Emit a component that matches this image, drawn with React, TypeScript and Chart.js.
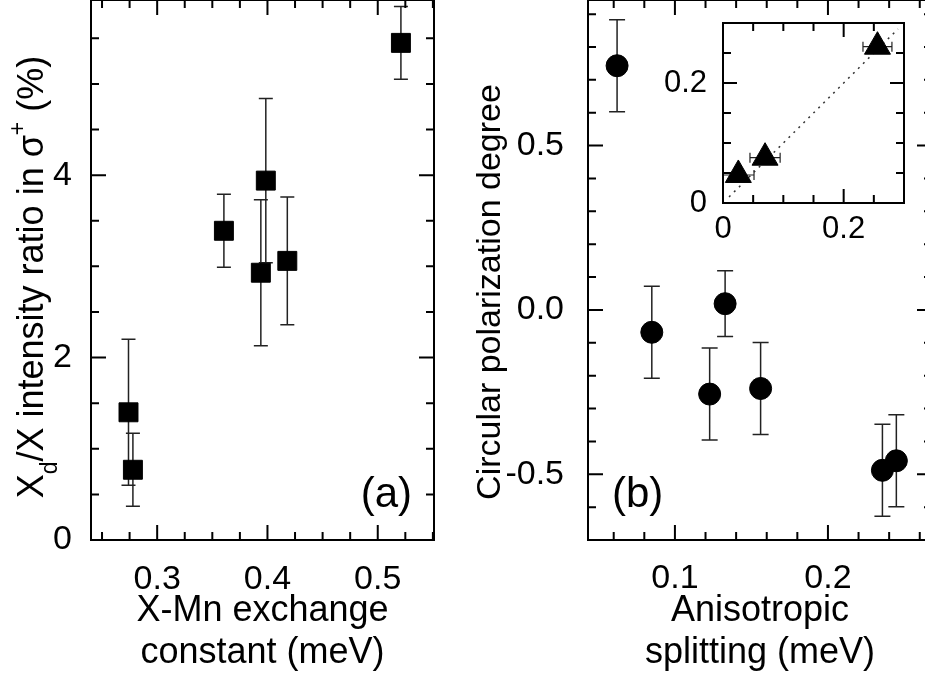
import React, { useEffect, useRef } from 'react';
import { Chart, registerables } from 'chart.js';

Chart.register(...registerables);

const FONT = '"Liberation Sans", Arial, Helvetica, sans-serif';

// ---------- Panel (a) ----------
const exchangeConstant = [0.274, 0.278, 0.3605, 0.3985, 0.394, 0.418, 0.521];
const intensityRatio = [1.4, 0.77, 3.39, 3.94, 2.93, 3.06, 5.45];
const intensityRatioErr = [0.8, 0.4, 0.4, 0.9, 0.8, 0.7, 0.4];
const aXTickValues = [0.3, 0.4, 0.5];
const aXTickLabels = ['0.3', '0.4', '0.5'];
const aYTickValues = [0, 2, 4];
const aYTickLabels = ['0', '2', '4'];

// ---------- Panel (b) ----------
const anisotropicSplitting = [0.0622, 0.0849, 0.1227, 0.1328, 0.156, 0.2356, 0.2447];
const polarizationDegree = [0.743, -0.068, -0.256, 0.019, -0.239, -0.488, -0.459];
const polarizationErr = [0.14, 0.14, 0.14, 0.1, 0.14, 0.14, 0.14];
const bXTickValues = [0.1, 0.2];
const bXTickLabels = ['0.1', '0.2'];
const bYTickValues = [-0.5, 0, 0.5];
const bYTickLabels = ['-0.5', '0.0', '0.5'];

// ---------- Inset ----------
const insetX = [0.0254, 0.0697, 0.256];
const insetY = [0.0467, 0.0755, 0.2605];
const insetXErr = [0.026, 0.025, 0.024];
const guideX = [0.01, 0.29];
const guideY = [0.01, 0.29];
const insetTickValues = [0, 0.2];
const insetTickLabels = ['0', '0.2'];

const isIn = (v: number, list: number[]) => list.some((m) => Math.abs(m - v) < 1e-6);

type AxisOpts = {
  min: number;
  max: number;
  step: number;
  tickValues: number[];
  tickLabels: string[];
  size: number;
  pad: number;
  fontSize: number;
  horizontal: boolean;
  title?: string[];
};

function axis(o: AxisOpts) {
  return {
    type: 'linear',
    position: o.horizontal ? 'bottom' : 'left',
    min: o.min,
    max: o.max,
    grid: { display: false },
    border: { display: false },
    ticks: {
      stepSize: o.step,
      autoSkip: false,
      includeBounds: false,
      maxRotation: 0,
      minRotation: 0,
      padding: o.pad,
      color: '#000',
      font: { family: FONT, size: o.fontSize, lineHeight: 1.2 },
      callback: (v: any) => {
        const i = o.tickValues.findIndex((t) => Math.abs(t - Number(v)) < 1e-6);
        return i >= 0 ? o.tickLabels[i] : '';
      },
    },
    title: o.title
      ? {
          display: true,
          text: o.title,
          color: '#000',
          font: { family: FONT, size: 36, lineHeight: 1.17 },
          padding: { top: 0, bottom: 9 },
        }
      : { display: false },
    afterFit: (s: any) => {
      if (o.horizontal) s.height = o.size;
      else s.width = o.size;
      s.paddingTop = 0;
      s.paddingBottom = 0;
      s.paddingLeft = 0;
      s.paddingRight = 0;
    },
  };
}

type FrameCfg = { xMajor: number[]; yMajor: number[]; majorLen: number; minorLen: number; fill?: string };

function framePlugin(id: string, cfg: FrameCfg) {
  return {
    id,
    beforeDraw(chart: any) {
      if (!cfg.fill) return;
      const { left, top, right, bottom } = chart.chartArea;
      const ctx = chart.ctx;
      ctx.save();
      ctx.fillStyle = cfg.fill;
      ctx.fillRect(left, top, right - left, bottom - top);
      ctx.restore();
    },
    afterDraw(chart: any) {
      const ctx = chart.ctx;
      const { left, top, right, bottom } = chart.chartArea;
      const xs = chart.scales.x;
      const ys = chart.scales.y;
      ctx.save();
      ctx.strokeStyle = '#000';
      ctx.lineWidth = 2;
      ctx.beginPath();
      for (const t of xs.ticks) {
        const p = xs.getPixelForValue(t.value);
        const len = isIn(t.value, cfg.xMajor) ? cfg.majorLen : cfg.minorLen;
        ctx.moveTo(p, bottom);
        ctx.lineTo(p, bottom - len);
        ctx.moveTo(p, top);
        ctx.lineTo(p, top + len);
      }
      for (const t of ys.ticks) {
        const p = ys.getPixelForValue(t.value);
        const len = isIn(t.value, cfg.yMajor) ? cfg.majorLen : cfg.minorLen;
        ctx.moveTo(left, p);
        ctx.lineTo(left + len, p);
        ctx.moveTo(right, p);
        ctx.lineTo(right - len, p);
      }
      ctx.stroke();
      ctx.strokeRect(left, top, right - left, bottom - top);
      ctx.restore();
    },
  };
}

type ErrCfg = { xs: number[]; ys: number[]; yErr?: number[]; xErr?: number[]; cap: number; color: string; width: number };

function errorBarPlugin(id: string, cfg: ErrCfg) {
  return {
    id,
    beforeDatasetsDraw(chart: any) {
      const ctx = chart.ctx;
      const sx = chart.scales.x;
      const sy = chart.scales.y;
      const h = cfg.cap / 2;
      ctx.save();
      ctx.strokeStyle = cfg.color;
      ctx.lineWidth = cfg.width;
      ctx.beginPath();
      cfg.xs.forEach((x, i) => {
        const y = cfg.ys[i];
        const px = sx.getPixelForValue(x);
        const py = sy.getPixelForValue(y);
        if (cfg.yErr) {
          const y1 = sy.getPixelForValue(y - cfg.yErr[i]);
          const y2 = sy.getPixelForValue(y + cfg.yErr[i]);
          ctx.moveTo(px, y1);
          ctx.lineTo(px, y2);
          ctx.moveTo(px - h, y1);
          ctx.lineTo(px + h, y1);
          ctx.moveTo(px - h, y2);
          ctx.lineTo(px + h, y2);
        }
        if (cfg.xErr) {
          const x1 = sx.getPixelForValue(x - cfg.xErr[i]);
          const x2 = sx.getPixelForValue(x + cfg.xErr[i]);
          ctx.moveTo(x1, py);
          ctx.lineTo(x2, py);
          ctx.moveTo(x1, py - h);
          ctx.lineTo(x1, py + h);
          ctx.moveTo(x2, py - h);
          ctx.lineTo(x2, py + h);
        }
      });
      ctx.stroke();
      ctx.restore();
    },
  };
}

type Seg = { text: string; size: number; shift: number };
type TextItem =
  | { kind: 'vertical'; segs: Seg[]; baselineX: number; centerY: number }
  | { kind: 'label'; text: string; size: number; x: number; y: number; align: CanvasTextAlign };

function textPlugin(id: string, items: TextItem[]) {
  return {
    id,
    afterDraw(chart: any) {
      const ctx: CanvasRenderingContext2D = chart.ctx;
      ctx.save();
      ctx.fillStyle = '#000';
      ctx.textBaseline = 'alphabetic';
      for (const it of items) {
        if (it.kind === 'label') {
          ctx.font = `${it.size}px ${FONT}`;
          ctx.textAlign = it.align;
          ctx.fillText(it.text, it.x, it.y);
        } else {
          ctx.textAlign = 'left';
          const widths = it.segs.map((s) => {
            ctx.font = `${s.size}px ${FONT}`;
            return ctx.measureText(s.text).width;
          });
          const total = widths.reduce((a, b) => a + b, 0);
          ctx.save();
          ctx.translate(it.baselineX, it.centerY + total / 2);
          ctx.rotate(-Math.PI / 2);
          let x = 0;
          it.segs.forEach((s, i) => {
            ctx.font = `${s.size}px ${FONT}`;
            ctx.fillText(s.text, x, s.shift);
            x += widths[i];
          });
          ctx.restore();
        }
      }
      ctx.restore();
    },
  };
}

const baseOptions = (padding: any) => ({
  responsive: false,
  animation: false,
  devicePixelRatio: 1,
  events: [],
  layout: { padding, autoPadding: false },
  plugins: { legend: { display: false }, tooltip: { enabled: false } },
});

export default function App() {
  const aRef = useRef<HTMLCanvasElement>(null);
  const bRef = useRef<HTMLCanvasElement>(null);
  const cRef = useRef<HTMLCanvasElement>(null);

  useEffect(() => {
    const cfgA: any = {
      type: 'scatter',
      data: {
        datasets: [
          {
            data: exchangeConstant.map((x, i) => ({ x, y: intensityRatio[i] })),
            pointStyle: 'rect',
            pointRadius: 13.4,
            pointHoverRadius: 13.4,
            backgroundColor: '#000',
            borderColor: '#000',
            borderWidth: 1,
          },
        ],
      },
      options: {
        ...baseOptions({ left: 0, right: 26, top: 0, bottom: 0 }),
        scales: {
          x: axis({
            min: 0.24, max: 0.551, step: 0.025, tickValues: aXTickValues, tickLabels: aXTickLabels,
            size: 143, pad: 11, fontSize: 34, horizontal: true, title: ['X-Mn exchange', 'constant (meV)'],
          }),
          y: axis({
            min: 0, max: 5.92, step: 0.5, tickValues: aYTickValues, tickLabels: aYTickLabels,
            size: 91, pad: 11, fontSize: 34, horizontal: false,
          }),
        },
      },
      plugins: [
        errorBarPlugin('errA', { xs: exchangeConstant, ys: intensityRatio, yErr: intensityRatioErr, cap: 14, color: '#222', width: 1.5 }),
        framePlugin('frameA', { xMajor: aXTickValues, yMajor: aYTickValues, majorLen: 15, minorLen: 8 }),
        textPlugin('textA', [
          {
            kind: 'vertical',
            baselineX: 43,
            centerY: 277,
            segs: [
              { text: 'X', size: 36, shift: 0 },
              { text: 'd', size: 23, shift: 14 },
              { text: '/X intensity ratio in σ', size: 36, shift: 0 },
              { text: '+', size: 23, shift: -18 },
              { text: ' (%)', size: 36, shift: 0 },
            ],
          },
          { kind: 'label', text: '(a)', size: 42, x: 412, y: 507, align: 'right' },
        ]),
      ],
    };

    const cfgB: any = {
      type: 'scatter',
      data: {
        datasets: [
          {
            data: anisotropicSplitting.map((x, i) => ({ x, y: polarizationDegree[i] })),
            pointStyle: 'circle',
            pointRadius: 11,
            pointHoverRadius: 11,
            backgroundColor: '#000',
            borderColor: '#000',
            borderWidth: 1,
          },
        ],
      },
      options: {
        ...baseOptions({ left: 0, right: 8, top: 0, bottom: 0 }),
        scales: {
          x: axis({
            min: 0.0432, max: 0.268, step: 0.02, tickValues: bXTickValues, tickLabels: bXTickLabels,
            size: 143, pad: 10, fontSize: 34, horizontal: true, title: ['Anisotropic', 'splitting (meV)'],
          }),
          y: axis({
            min: -0.7, max: 0.943, step: 0.1, tickValues: bYTickValues, tickLabels: bYTickLabels,
            size: 128, pad: 16, fontSize: 34, horizontal: false,
          }),
        },
      },
      plugins: [
        errorBarPlugin('errB', { xs: anisotropicSplitting, ys: polarizationDegree, yErr: polarizationErr, cap: 16, color: '#222', width: 1.5 }),
        framePlugin('frameB', { xMajor: bXTickValues, yMajor: bYTickValues, majorLen: 15, minorLen: 8 }),
        textPlugin('textB', [
          {
            kind: 'vertical',
            baselineX: 40,
            centerY: 292,
            segs: [{ text: 'Circular polarization degree', size: 34, shift: 0 }],
          },
          { kind: 'label', text: '(b)', size: 42, x: 152, y: 507, align: 'left' },
        ]),
      ],
    };

    const cfgC: any = {
      type: 'scatter',
      data: {
        datasets: [
          {
            data: insetX.map((x, i) => ({ x, y: insetY[i] })),
            pointStyle: 'triangle',
            pointRadius: 15,
            pointHoverRadius: 15,
            backgroundColor: '#000',
            borderColor: '#000',
            borderWidth: 1,
            order: 0,
          },
          {
            data: guideX.map((x, i) => ({ x, y: guideY[i] })),
            showLine: true,
            borderColor: '#333',
            borderWidth: 1.5,
            borderDash: [2, 5],
            pointRadius: 0,
            pointHoverRadius: 0,
            order: 1,
          },
        ],
      },
      options: {
        ...baseOptions({ left: 0, right: 6, top: 23, bottom: 0 }),
        scales: {
          x: axis({
            min: 0, max: 0.3, step: 0.05, tickValues: insetTickValues, tickLabels: insetTickLabels,
            size: 57, pad: 0, fontSize: 31, horizontal: true,
          }),
          y: axis({
            min: 0, max: 0.3, step: 0.05, tickValues: insetTickValues, tickLabels: insetTickLabels,
            size: 63, pad: 8, fontSize: 31, horizontal: false,
          }),
        },
      },
      plugins: [
        framePlugin('frameC', { xMajor: insetTickValues, yMajor: insetTickValues, majorLen: 14, minorLen: 8, fill: '#fff' }),
        errorBarPlugin('errC', { xs: insetX, ys: insetY, xErr: insetXErr, cap: 10, color: '#222', width: 1.2 }),
      ],
    };

    const charts = [
      new Chart(aRef.current as HTMLCanvasElement, cfgA),
      new Chart(bRef.current as HTMLCanvasElement, cfgB),
      new Chart(cRef.current as HTMLCanvasElement, cfgC),
    ];
    return () => charts.forEach((c) => c.destroy());
  }, []);

  return (
    <div
      style={{
        position: 'absolute',
        left: 0,
        top: 0,
        width: 925,
        height: 683,
        overflow: 'hidden',
        background: '#fff',
      }}
    >
      <canvas ref={aRef} width={460} height={683} style={{ position: 'absolute', left: 0, top: 0, width: 460, height: 683 }} />
      <canvas ref={bRef} width={480} height={683} style={{ position: 'absolute', left: 460, top: 0, width: 480, height: 683 }} />
      <canvas ref={cRef} width={250} height={260} style={{ position: 'absolute', left: 660, top: 0, width: 250, height: 260 }} />
    </div>
  );
}
